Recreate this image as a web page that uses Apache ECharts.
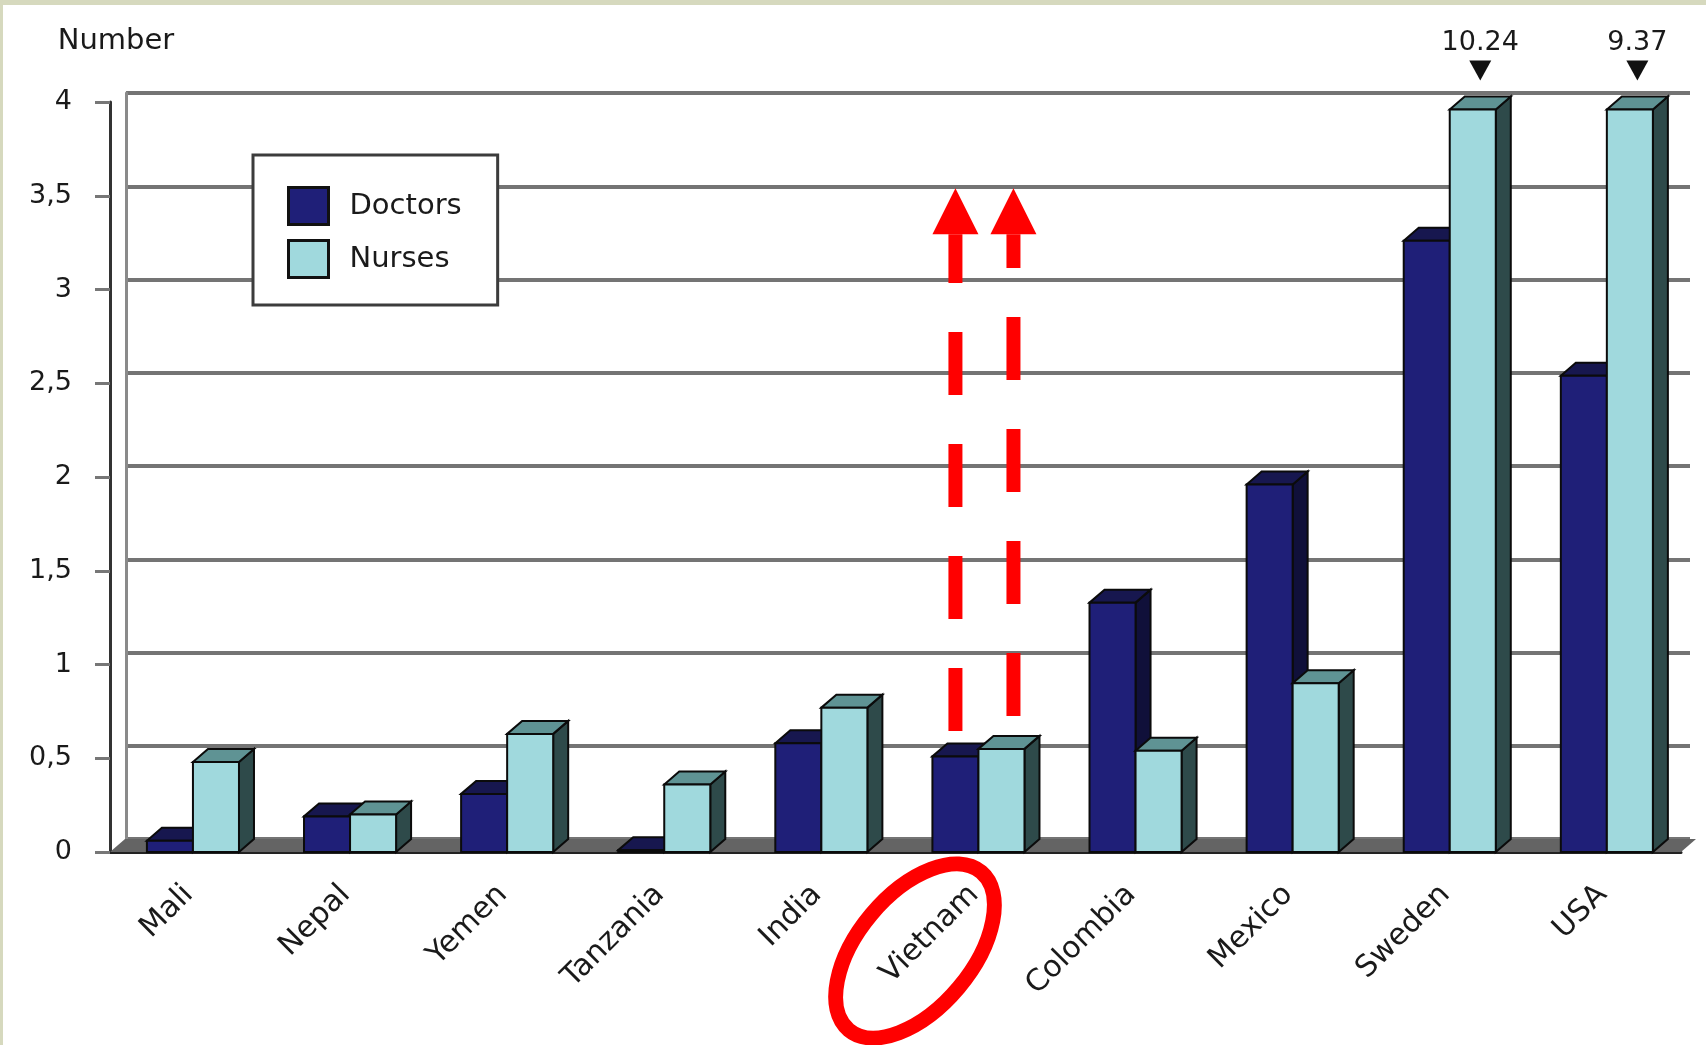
<!DOCTYPE html>
<html>
<head>
<meta charset="utf-8">
<title>Doctors and nurses</title>
<script src="https://cdn.jsdelivr.net/npm/echarts@6/dist/echarts.min.js"></script>
<style>
  html, body { margin: 0; padding: 0; background: #fff; }
  #chart { width: 1706px; height: 1045px; }
</style>
</head>
<body>
<div id="chart"></div>
<script>
// values (per 1000 people)
var countries = ['Mali', 'Nepal', 'Yemen', 'Tanzania', 'India', 'Vietnam', 'Colombia', 'Mexico', 'Sweden', 'USA'];
var doctors = [0.06, 0.19, 0.31, 0.01, 0.58, 0.51, 1.33, 1.96, 3.26, 2.54];
var nurses = [0.48, 0.2, 0.63, 0.36, 0.77, 0.55, 0.54, 0.9, 10.24, 9.37];
var yTicks = [0, 0.5, 1, 1.5, 2, 2.5, 3, 3.5, 4];
// the red arrows drawn over Vietnam
var arrowCountry = 'Vietnam';
var arrowFrom = [0.645, 0.725];
var arrowTo = [3.54, 3.54];

var font = '"DejaVu Sans", "Liberation Sans", sans-serif';
var yMax = yTicks[yTicks.length - 1];
var capValue = 3.96;   // bars over the top are cut here
var depthX = 15, depthY = -13;

var looks = [
	{front: '#1f1f78', top: '#17174f', side: '#10103a'},
	{front: '#a0d9dd', top: '#5f9394', side: '#2e4a4a'}
];

// left edge and width of one bar inside its category
function barBox(api, cat, slot) {
	var base = api.coord([cat, 0]);
	var band = api.size([1, 0])[0];
	var w = band * 0.293;
	var x0 = base[0] - band / 2 + band * 0.235 + slot * w;
	return {x0: x0, w: w, y0: base[1]};
}

function barRenderer(slot) {
	return function(params, api) {
		var cat = api.value(0);
		var raw = api.value(1);
		var box = barBox(api, cat, slot);
		var yT = api.coord([cat, Math.min(raw, capValue)])[1];
		var x0 = box.x0, x1 = box.x0 + box.w, yB = box.y0;
		var c = looks[slot];
		var edge = {stroke: '#0b0b0b', lineWidth: 2, lineJoin: 'miter'};
		var kids = [
			{type: 'polygon', shape: {points: [[x1, yT], [x1 + depthX, yT + depthY], [x1 + depthX, yB + depthY], [x1, yB]]},
				style: Object.assign({fill: c.side}, edge)},
			{type: 'polygon', shape: {points: [[x0, yT], [x0 + depthX, yT + depthY], [x1 + depthX, yT + depthY], [x1, yT]]},
				style: Object.assign({fill: c.top}, edge)},
			{type: 'rect', shape: {x: x0, y: yT, width: box.w, height: yB - yT},
				style: Object.assign({fill: c.front}, edge)}
		];
		if (raw > yMax) {
			var cx = x0 + box.w / 2 + depthX / 2;
			kids.push({type: 'polygon', shape: {points: [[cx - 11, yT - 49], [cx + 11, yT - 49], [cx, yT - 29]]},
				style: {fill: '#111'}});
			kids.push({type: 'text', x: cx, y: yT - 67,
				style: {text: String(raw), font: '27px ' + font, fill: '#1a1a1a', align: 'center', verticalAlign: 'middle'}});
		}
		return {type: 'group', children: kids};
	};
}

// grey floor under the bars, from the first to the last category
function floorRenderer(params, api) {
	var band = api.size([1, 0])[0];
	var left = api.coord([0, 0]);
	var right = api.coord([countries.length - 1, 0]);
	var xl = left[0] - band / 2, xr = right[0] + band / 2, y = left[1];
	return {type: 'polygon', shape: {points: [[xl, y], [xr, y], [xr + depthX, y + depthY], [xl + depthX, y + depthY]]},
		style: {fill: '#646464'}};
}

function arrowRenderer(params, api) {
	var cat = api.value(0);
	var slot = api.value(1);
	var box = barBox(api, cat, slot);
	var x = box.x0 + box.w / 2 + slot * 12;
	var yFrom = api.coord([cat, api.value(2)])[1];
	var yTip = api.coord([cat, api.value(3)])[1];
	var head = 46;
	return {type: 'group', children: [
		{type: 'line', shape: {x1: x, y1: yFrom, x2: x, y2: yTip + head},
			style: {stroke: '#ff0000', lineWidth: 14, lineDash: [63, 49], lineCap: 'butt'}},
		{type: 'polygon', shape: {points: [[x - 23, yTip + head], [x + 23, yTip + head], [x, yTip]]},
			style: {fill: '#ff0000'}}
	]};
}

var arrowCat = countries.indexOf(arrowCountry);
var arrowData = arrowFrom.map(function(v, i) { return [arrowCat, i, v, arrowTo[i]]; });

var chart = echarts.init(document.getElementById('chart'));
chart.setOption({
	animation: false,
	backgroundColor: '#fff',
	textStyle: {fontFamily: font},
	grid: [
		{left: 110, right: 25, top: 102, bottom: 193},
		{left: 126, right: 16, top: 93, bottom: 206}
	],
	legend: {
		orient: 'vertical', left: 253, top: 155,
		padding: [31, 36, 26, 34],
		itemWidth: 40, itemHeight: 37, itemGap: 13,
		backgroundColor: '#fff', borderColor: '#3c3c3c', borderWidth: 3,
		textStyle: {fontFamily: font, fontSize: 29, color: '#1a1a1a', padding: [8, 0, 0, 16]},
		data: [
			{name: 'Doctors', icon: 'rect', itemStyle: {color: looks[0].front, borderColor: '#111', borderWidth: 3}},
			{name: 'Nurses', icon: 'rect', itemStyle: {color: looks[1].front, borderColor: '#111', borderWidth: 3}}
		]
	},
	xAxis: [
		{
			type: 'category', gridIndex: 0, data: countries,
			axisLine: {lineStyle: {color: '#222', width: 3}},
			axisTick: {length: 15, lineStyle: {color: '#777', width: 3}},
			axisLabel: {rotate: 45, interval: 0, margin: 38, fontSize: 30, color: '#1a1a1a', fontFamily: font}
		},
		{
			type: 'category', gridIndex: 1, data: countries,
			axisLine: {show: false}, axisTick: {show: false}, axisLabel: {show: false}
		}
	],
	yAxis: [
		{
			type: 'value', gridIndex: 0, min: 0, max: yMax, interval: 0.5,
			name: 'Number', nameLocation: 'end', nameGap: 46,
			nameTextStyle: {fontSize: 29, color: '#1a1a1a', fontFamily: font, align: 'center', padding: [0, 0, 0, 12]},
			axisLine: {show: true, lineStyle: {color: '#333', width: 3}},
			axisTick: {show: true, length: 15, lineStyle: {color: '#777', width: 3}},
			splitLine: {show: false},
			axisLabel: {margin: 38, fontSize: 27, color: '#1a1a1a', fontFamily: font,
				formatter: function(v) { return String(v).replace('.', ','); }}
		},
		{
			type: 'value', gridIndex: 1, min: 0, max: yMax, interval: 0.5,
			axisLine: {show: true, lineStyle: {color: '#8a8a8a', width: 3}},
			axisTick: {show: false}, axisLabel: {show: false},
			splitLine: {show: true, lineStyle: {color: '#747474', width: 4}}
		}
	],
	series: [
		{
			name: 'floor', type: 'custom', xAxisIndex: 0, yAxisIndex: 0, clip: false, z: 1,
			renderItem: floorRenderer, encode: {x: 0, y: 1}, silent: true,
			data: [[0, 0]]
		},
		{
			name: 'Doctors', type: 'custom', xAxisIndex: 0, yAxisIndex: 0, clip: false,
			itemStyle: {color: looks[0].front},
			renderItem: barRenderer(0), encode: {x: 0, y: 1},
			data: doctors.map(function(v, i) { return [i, v]; })
		},
		{
			name: 'Nurses', type: 'custom', xAxisIndex: 0, yAxisIndex: 0, clip: false,
			itemStyle: {color: looks[1].front},
			renderItem: barRenderer(1), encode: {x: 0, y: 1},
			data: nurses.map(function(v, i) { return [i, v]; })
		},
		{
			name: 'arrows', type: 'custom', xAxisIndex: 0, yAxisIndex: 0, clip: false, z: 5,
			renderItem: arrowRenderer, encode: {x: 0, y: 2},
			data: arrowData
		}
	],
	graphic: [
		{type: 'rect', left: 0, top: 0, z: 100, shape: {width: 1706, height: 5}, style: {fill: '#d6d9be'}},
		{type: 'rect', left: 0, top: 0, z: 100, shape: {width: 3, height: 1045}, style: {fill: '#d6d9be'}},
		{type: 'ellipse', x: 915, y: 951, rotation: 50 * Math.PI / 180, z: 100,
			shape: {cx: 0, cy: 0, rx: 103, ry: 57},
			style: {fill: null, stroke: '#ff0000', lineWidth: 15}}
	]
});
</script>
</body>
</html>
